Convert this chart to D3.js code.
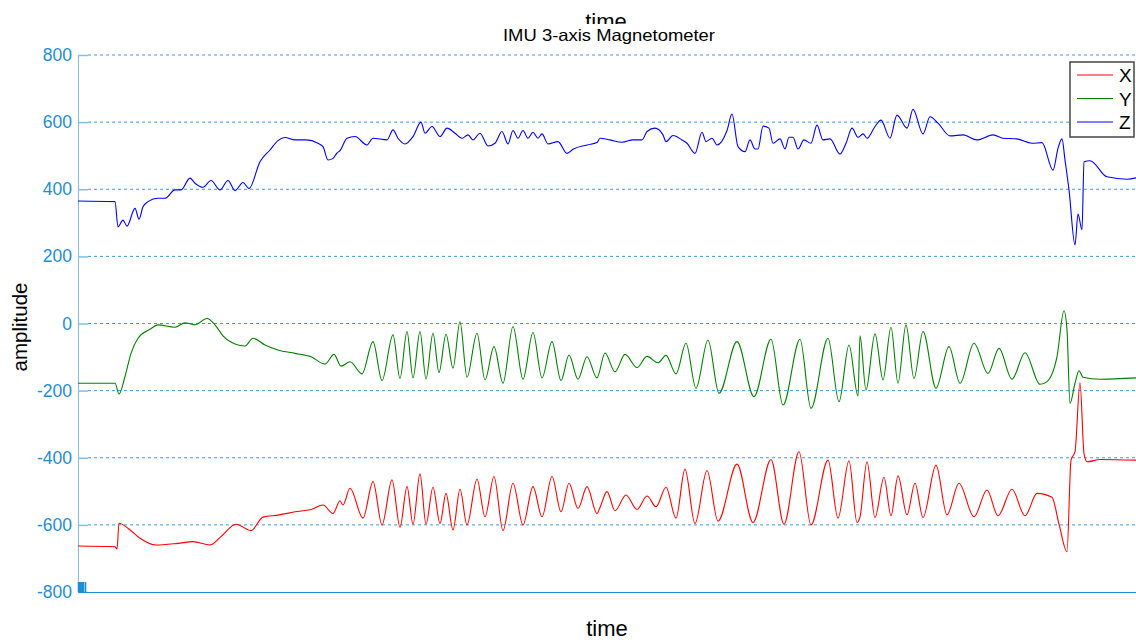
<!DOCTYPE html>
<html>
<head>
<meta charset="utf-8">
<script src="https://cdn.jsdelivr.net/npm/d3@7"></script>
<style>
  body { margin: 0; background: #fff; }
  svg { font-family: "Liberation Sans", Arial, sans-serif; }
  .axis-y text { fill: #1f8dd6; font-size: 17.5px; }
  .axis-y path, .axis-y line { stroke: #80c0e6; }
  .axis-x path, .axis-x line { stroke: #1f8dd6; }
  .grid line { stroke: #3a9fd8; stroke-dasharray: 3,3; }
</style>
</head>
<body>
<div id="chart"></div>
<script>
// sample positions (time) and values, one pair per series
var X_TIME = [0, 37, 39, 41, 50, 62, 78, 100, 115, 132, 143, 158, 173, 185, 200, 217, 233, 245, 255, 262,
  265, 272, 285, 295, 304, 314, 322, 329, 335, 342, 348, 355, 362, 368, 375, 382, 389, 399, 407, 416,
  425, 435, 445, 455, 464, 474, 483, 491, 500, 509, 519, 522, 529, 537, 548, 559, 569, 578, 588, 598,
  607, 617, 629, 640, 659, 675, 693, 706, 721, 733, 750, 760, 771, 779, 782, 789, 797, 806, 813, 820,
  829, 837, 845, 858, 869, 881, 896, 909, 920, 934, 947, 959, 974, 981, 989, 993, 997, 1002, 1006, 1009,
  1022, 1058];
var X_VALUES = [-663, -665, -672, -595, -610, -640, -660, -655, -650, -660, -635, -598, -617, -577, -571, -561, -554, -541, -566, -528,
  -541, -491, -580, -471, -600, -466, -607, -486, -598, -448, -598, -488, -596, -506, -615, -494, -600, -464, -576, -456,
  -617, -476, -600, -486, -576, -456, -561, -476, -551, -486, -566, -548, -501, -558, -511, -554, -514, -546, -488, -580,
  -434, -596, -438, -589, -419, -593, -405, -598, -382, -600, -407, -580, -409, -593, -576, -412, -578, -458, -573, -454,
  -570, -476, -578, -422, -570, -476, -576, -496, -573, -494, -573, -506, -518, -598, -680, -407, -382, -176, -387, -412,
  -405, -407];

var Y_TIME = [0, 37, 41, 47, 53, 60, 72, 80, 97, 107, 117, 129, 137, 145, 157, 167, 175, 187, 200, 217,
  233, 247, 256, 263, 272, 284, 295, 304, 315, 322, 329, 335, 342, 348, 355, 361, 368, 375, 382, 389,
  399, 407, 416, 425, 435, 445, 455, 464, 474, 483, 491, 500, 509, 519, 527, 537, 547, 559, 569, 580,
  588, 598, 608, 618, 630, 641, 659, 676, 693, 705, 722, 733, 750, 761, 771, 780, 782, 788, 797, 805,
  813, 820, 828, 836, 845, 858, 871, 882, 896, 910, 921, 934, 947, 962, 969, 979, 986, 989, 992, 997,
  1001, 1005, 1022, 1058];
var Y_VALUES = [-178, -178, -210, -158, -89, -44, -17, -4, -11, 2, -4, 15, -4, -37, -61, -67, -44, -64, -79, -89,
  -99, -121, -92, -127, -114, -150, -54, -170, -34, -164, -24, -162, -24, -165, -29, -146, -32, -133, 5, -160,
  -29, -168, -69, -178, -9, -166, -27, -162, -54, -170, -94, -166, -99, -162, -88, -144, -92, -131, -98, -117,
  -95, -150, -59, -193, -49, -208, -54, -218, -47, -243, -47, -253, -44, -233, -64, -216, -37, -198, -31, -168,
  -11, -178, -4, -164, -24, -193, -69, -178, -59, -149, -74, -166, -87, -181, -173, -99, 38, -19, -238, -178,
  -141, -160, -166, -162];

var Z_TIME = [0, 37, 40, 45, 49, 57, 61, 65, 70, 80, 87, 97, 103, 112, 117, 125, 133, 142, 150, 157,
  165, 171, 182, 192, 200, 207, 217, 228, 240, 245, 250, 255, 259, 262, 269, 277, 289, 295, 309, 315,
  320, 327, 335, 343, 347, 354, 362, 369, 377, 384, 390, 395, 402, 410, 417, 424, 430, 435, 440, 445,
  450, 455, 460, 464, 470, 480, 489, 495, 509, 519, 522, 532, 544, 555, 564, 569, 577, 585, 588, 595,
  604, 609, 617, 624, 628, 634, 639, 649, 654, 660, 667, 672, 677, 680, 685, 691, 695, 702, 707, 711,
  715, 720, 726, 733, 739, 745, 752, 762, 768, 774, 780, 785, 789, 797, 803, 812, 819, 829, 835, 845,
  852, 860, 872, 885, 899, 915, 925, 939, 954, 964, 975, 980, 984, 987, 991, 997, 1000, 1004, 1006, 1012,
  1029, 1049, 1058];
var Z_VALUES = [365, 363, 288, 308, 290, 343, 311, 348, 363, 373, 373, 398, 398, 433, 418, 406, 426, 398, 426, 396,
  420, 402, 482, 517, 545, 554, 547, 547, 537, 527, 487, 492, 508, 515, 552, 557, 532, 552, 547, 577,
  552, 535, 557, 600, 567, 587, 557, 582, 567, 552, 562, 547, 567, 529, 537, 572, 535, 575, 552, 575,
  552, 570, 552, 565, 535, 542, 507, 519, 532, 539, 552, 547, 540, 547, 547, 572, 582, 562, 542, 560,
  547, 537, 507, 570, 542, 552, 532, 575, 624, 527, 512, 547, 520, 520, 588, 582, 537, 550, 520, 555,
  555, 520, 547, 537, 591, 547, 550, 505, 537, 582, 555, 565, 552, 587, 606, 552, 621, 582, 638, 565,
  616, 597, 559, 562, 547, 562, 552, 550, 537, 539, 457, 522, 550, 487, 398, 234, 326, 279, 482, 485,
  437, 430, 434, 432];

var SERIES_NAMES = ["X", "Y", "Z"];
var SERIES_COLORS = ["#ff0000", "#008000", "#0000ff"];
var Y_TICKS = [-800, -600, -400, -200, 0, 200, 400, 600, 800];
var X_TICKS = [0, 1, 2, 3, 4, 5, 7];

function drawChart() {
    var margin = { top: 55, right: 0, bottom: 50, left: 78 };
    var width = 1136 - margin.left - margin.right;
    var height = 592 - margin.top;

    var svg = d3.select("#chart")
        .append("svg")
        .attr("width", 1136)
        .attr("height", 642);

    var chart = svg.append("g")
        .attr("transform", "translate(" + margin.left + "," + margin.top + ")");

    var x = d3.scaleLinear().domain([0, 1058]).range([0, width]);
    var y = d3.scaleLinear().domain([-800, 800]).range([height, 0]);

    // dashed grid
    chart.append("g")
        .attr("class", "grid")
        .selectAll("line")
        .data(Y_TICKS.filter(function (d) { return d > -800; }))
        .enter()
        .append("line")
        .attr("x1", 10)
        .attr("x2", width)
        .attr("y1", function (d) { return y(d); })
        .attr("y2", function (d) { return y(d); });

    // left axis, ticks pointing inward, plain hyphen for negatives
    chart.append("g")
        .attr("class", "axis-y")
        .call(d3.axisLeft(y).tickValues(Y_TICKS).tickSizeInner(-10).tickSizeOuter(0).tickPadding(6)
            .tickFormat(function (d) { return String(d); }))
        .selectAll(".tick line").attr("stroke-width", 1.5);

    // bottom axis with crowded ticks near origin
    chart.append("g")
        .attr("class", "axis-x")
        .attr("transform", "translate(0," + height + ")")
        .call(d3.axisBottom(x).tickValues(X_TICKS).tickSizeInner(-10).tickSizeOuter(0).tickFormat(""))
        .selectAll(".tick line").attr("stroke-width", 1.6);

    chart.append("clipPath")
        .attr("id", "plot-clip")
        .append("rect")
        .attr("width", width)
        .attr("height", height);

    var series = [
        { name: "X", time: X_TIME, values: X_VALUES },
        { name: "Y", time: Y_TIME, values: Y_VALUES },
        { name: "Z", time: Z_TIME, values: Z_VALUES }
    ];

    var line = d3.line()
        .x(function (d) { return x(d[0]); })
        .y(function (d) { return y(d[1]); })
        .curve(d3.curveMonotoneX);

    chart.append("g")
        .attr("clip-path", "url(#plot-clip)")
        .selectAll("path")
        .data(series)
        .enter()
        .append("path")
        .attr("fill", "none")
        .attr("stroke", function (d, i) { return SERIES_COLORS[i]; })
        .attr("stroke-width", 1.1)
        .attr("d", function (d) { return line(d3.zip(d.time, d.values)); });

    // titles: the upper "time" sits behind the chart title, as in the original figure
    svg.append("text")
        .attr("x", 606).attr("y", 29)
        .attr("text-anchor", "middle")
        .attr("font-size", "22px")
        .text("time");
    svg.append("rect")
        .attr("x", 500).attr("y", 24)
        .attr("width", 218).attr("height", 20)
        .attr("fill", "#fff");
    svg.append("text")
        .attr("x", 609).attr("y", 41)
        .attr("text-anchor", "middle")
        .attr("font-size", "16.5px")
        .attr("textLength", 212)
        .attr("lengthAdjust", "spacingAndGlyphs")
        .text("IMU 3-axis Magnetometer");
    svg.append("text")
        .attr("x", 607).attr("y", 636)
        .attr("text-anchor", "middle")
        .attr("font-size", "22px")
        .text("time");
    svg.append("text")
        .attr("transform", "translate(27,327) rotate(-90)")
        .attr("text-anchor", "middle")
        .attr("font-size", "20.5px")
        .text("amplitude");

    // legend
    var legend = svg.append("g").attr("transform", "translate(1070,62)");
    legend.append("rect")
        .attr("width", 64).attr("height", 75)
        .attr("fill", "#fff")
        .attr("stroke", "#444")
        .attr("stroke-width", 1.5);
    var items = legend.selectAll(".item")
        .data(SERIES_NAMES)
        .enter()
        .append("g")
        .attr("transform", function (d, i) { return "translate(0," + (13 + i * 23.5) + ")"; });
    items.append("line")
        .attr("x1", 7).attr("x2", 43)
        .attr("stroke", function (d, i) { return SERIES_COLORS[i]; })
        .attr("stroke-width", 1);
    items.append("text")
        .attr("x", 49).attr("y", 7)
        .attr("font-size", "19px")
        .text(function (d) { return d; });
}

window.onload = function () {
    drawChart();
};
</script>
</body>
</html>
